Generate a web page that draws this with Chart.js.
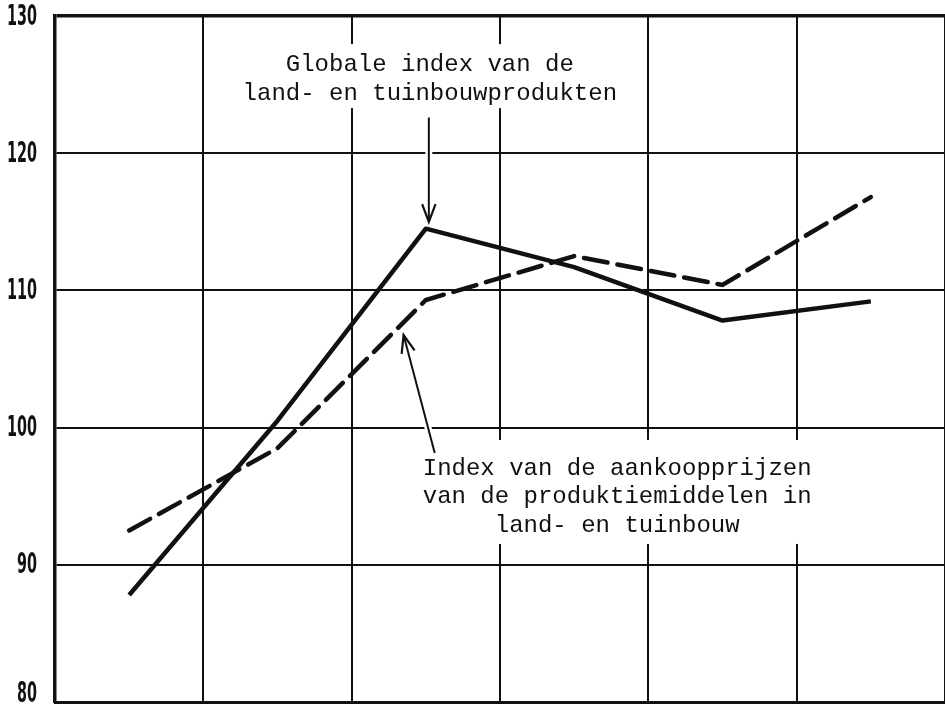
<!DOCTYPE html>
<html>
<head>
<meta charset="utf-8">
<script src="https://cdn.jsdelivr.net/npm/chart.js@4/dist/chart.umd.min.js"></script>
<style>
  html, body { margin: 0; padding: 0; background: #fff; }
  #wrap { width: 945px; height: 704px; }
</style>
</head>
<body>
<div id="wrap"><canvas id="index"></canvas></div>
<script>
// six periods, no labels printed on the x axis
const periods = ['1', '2', '3', '4', '5', '6'];
const yTicks = [80, 90, 100, 110, 120, 130];

// Globale index van de land- en tuinbouwprodukten
const outputIndex = [87.8, 100.5, 114.5, 111.7, 107.8, 109.2];
// Index van de aankoopprijzen van de produktiemiddelen
const inputIndex = [92.5, 98.5, 109.3, 112.5, 110.4, 116.8];

const noteTop = ['Globale index van de', 'land- en tuinbouwprodukten'];
const noteBottom = ['Index van de aankoopprijzen', 'van de produktiemiddelen in', 'land- en tuinbouw'];

const ink = '#111';

function arrow(ctx, x1, y1, x2, y2) {
  let a = Math.atan2(y2 - y1, x2 - x1);
  let len = 19, w = 0.36;
  // white halo so the grid breaks round the arrow
  ctx.strokeStyle = '#fff';
  ctx.lineWidth = 7;
  ctx.beginPath(); ctx.moveTo(x1, y1); ctx.lineTo(x2, y2); ctx.stroke();
  ctx.strokeStyle = ink;
  ctx.lineWidth = 2;
  ctx.beginPath(); ctx.moveTo(x1, y1); ctx.lineTo(x2, y2); ctx.stroke();
  ctx.lineWidth = 2.2;
  ctx.beginPath();
  ctx.moveTo(x2 - len * Math.cos(a - w), y2 - len * Math.sin(a - w));
  ctx.lineTo(x2, y2);
  ctx.lineTo(x2 - len * Math.cos(a + w), y2 - len * Math.sin(a + w));
  ctx.stroke();
}

// narrow y labels, drawn from the scale's own ticks
const yLabels = {
  id: 'yLabels',
  afterDraw(chart) {
    let ctx = chart.ctx, y = chart.scales.y;
    ctx.save();
    ctx.font = 'bold 29px "DejaVu Sans Condensed", "DejaVu Sans", sans-serif';
    ctx.fillStyle = ink;
    ctx.textAlign = 'right';
    ctx.textBaseline = 'middle';
    ctx.scale(0.55, 1);
    y.ticks.forEach((t, i) => {
      let py = y.getPixelForTick(i) + 1;
      // keep the lowest label inside the page
      py = Math.min(py, chart.height - 10);
      ctx.fillText(String(t.value), 37 / 0.55, py);
    });
    ctx.restore();
  }
};

const notes = {
  id: 'notes',
  beforeDatasetsDraw(chart) {
    let ctx = chart.ctx, x = chart.scales.x, y = chart.scales.y;
    ctx.save();
    ctx.fillStyle = '#fff';
    // blank areas behind the two captions
    ctx.fillRect(x.getPixelForValue(0.75), y.getPixelForValue(127.95), 385, 64);
    ctx.fillRect(x.getPixelForValue(1.9), y.getPixelForValue(99.1), 425, 104);
    ctx.restore();
  },
  afterDatasetsDraw(chart) {
    let ctx = chart.ctx, x = chart.scales.x, y = chart.scales.y;
    ctx.save();
    ctx.font = '24px "Liberation Mono", "DejaVu Sans Mono", monospace';
    ctx.fillStyle = ink;
    ctx.textAlign = 'center';
    ctx.textBaseline = 'alphabetic';
    let cx = x.getPixelForValue(2) + 4;
    ctx.fillText(noteTop[0], cx, y.getPixelForValue(126.0));
    ctx.fillText(noteTop[1], cx, y.getPixelForValue(123.9));
    let cx2 = x.getPixelForValue(3.29);
    ctx.fillText(noteBottom[0], cx2, y.getPixelForValue(96.55));
    ctx.fillText(noteBottom[1], cx2, y.getPixelForValue(94.5));
    ctx.fillText(noteBottom[2], cx2, y.getPixelForValue(92.4));
    ctx.lineCap = 'butt';
    arrow(ctx, x.getPixelForValue(2) + 3, y.getPixelForValue(122.6),
               x.getPixelForValue(2) + 3, y.getPixelForValue(115.0));
    arrow(ctx, x.getPixelForValue(2.06), y.getPixelForValue(98.15),
               x.getPixelForValue(1.85), y.getPixelForValue(106.75));
    ctx.restore();
  }
};

new Chart(document.getElementById('index'), {
  type: 'line',
  data: {
    labels: periods,
    datasets: [{
      label: 'Globale index van de land- en tuinbouwprodukten',
      data: outputIndex,
      borderColor: ink,
      borderWidth: 4.5,
      pointRadius: 0,
      tension: 0,
      borderJoinStyle: 'round'
    }, {
      label: 'Index van de aankoopprijzen van de produktiemiddelen in land- en tuinbouw',
      data: inputIndex,
      borderColor: ink,
      borderWidth: 4.5,
      borderDash: [24, 10],
      borderCapStyle: 'round',
      pointRadius: 0,
      tension: 0
    }]
  },
  options: {
    responsive: true,
    maintainAspectRatio: false,
    animation: false,
    layout: { padding: { top: 16, right: 0, bottom: 2, left: 0 } },
    plugins: { legend: { display: false }, tooltip: { enabled: false } },
    scales: {
      x: {
        offset: true,
        grid: { offset: true, color: ink, lineWidth: 2, drawTicks: false },
        border: { color: ink, width: 3 },
        ticks: { display: false }
      },
      y: {
        min: 80,
        max: 130,
        afterBuildTicks: (s) => { s.ticks = yTicks.map(v => ({ value: v })); },
        afterFit: (s) => { s.width = 55; s.paddingTop = 0; s.paddingBottom = 0; },
        grid: {
          color: ink,
          lineWidth: (c) => c.tick && c.tick.value === 130 ? 3.5 : 2,
          drawTicks: false
        },
        border: { color: ink, width: 3.5 },
        ticks: { display: false }
      }
    }
  },
  plugins: [notes, yLabels]
});
</script>
</body>
</html>
